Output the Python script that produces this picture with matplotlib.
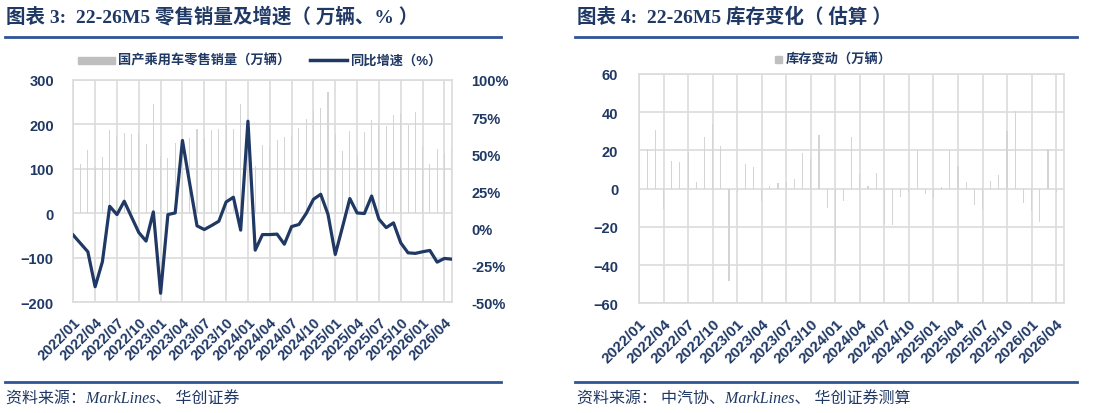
import matplotlib
matplotlib.use('Agg')
import matplotlib.pyplot as plt
import numpy as np
import pandas as pd
from matplotlib.lines import Line2D
from matplotlib.patches import Rectangle
from matplotlib.ticker import FuncFormatter

plt.rcParams['font.family'] = ['Liberation Sans', 'Noto Sans CJK SC']

# monthly data 2022/01 - 2026/05
months = pd.date_range('2022-01-01', periods=53, freq='MS').strftime('%Y/%m').tolist()

retail_sales = [216, 112, 142, 105, 127, 187, 174, 181, 179, 180, 157, 246,
                130, 124, 159, 165, 170, 190, 170, 187, 190, 200, 190, 246,
                210, 106, 153, 150, 164, 172, 175, 193, 213, 230, 237, 272,
                178, 140, 185, 131, 184, 211, 200, 196, 222, 225, 198, 228,
                151, 110, 144, 135, 147]

yoy_growth = [-4.7, -10.3, -15.9, -39.5, -22.6, 14.8, 9.2, 18.2, 7.6, -2.9, -8.7, 11.0,
              -43.9, 9.2, 10.3, 59.2, 30.0, 1.6, -0.9, 1.8, 4.7, 17.7, 20.9, -1.3,
              72.2, -14.8, -4.3, -4.3, -4.0, -10.8, 1.1, 2.5, 9.9, 19.5, 22.9, 9.4,
              -17.7, 0.9, 20.0, 10.3, 9.9, 21.7, 6.1, 0.4, 3.6, -9.9, -16.6, -17.0,
              -15.9, -15.0, -22.9, -20.4, -20.9]

inventory_change = [-18.7, 20.6, 30.7, -10.8, 14.3, 14.1, 19.0, 3.3, 27.0, 33.7, 22.3, -48.3,
                    -2.0, 12.7, 11.3, -6.5, 1.4, 3.1, 3.5, 4.9, 18.8, 15.7, 27.9, -9.9,
                    -38.0, -6.5, 27.0, 7.5, 1.4, 8.4, -18.7, -19.2, -4.2, -2.0, 20.4, -3.0,
                    -4.7, 1.0, 20.2, 11.9, 3.7, -8.5, -10.5, 4.0, 7.0, 30.2, 40.7, -7.7,
                    -11.7, -17.4, 20.9, -2.0, -3.8]

NAVY = '#1F3864'
RULE = '#2F5496'
GRID = '#DCDCDC'
BAR = '#D4D4D4'

W, H = 1094, 414
fig = plt.figure(figsize=(W / 100, H / 100), dpi=100)


def fx(px):
    return px / W


def fy(py):
    return 1 - py / H


x = np.arange(len(months))
tick_idx = x[::3]
serif = ['Liberation Serif', 'Noto Sans CJK SC']


def style_axes(ax, fs):
    ax.set_xlim(0, len(months) - 1)
    ax.set_xticks(tick_idx)
    ax.set_xticklabels([months[i] for i in tick_idx], rotation=45, ha='right',
                       rotation_mode='anchor', fontsize=fs, fontweight='bold', color=NAVY)
    ax.grid(True, color=GRID, lw=1.2)
    ax.set_axisbelow(True)
    for s in ax.spines.values():
        s.set_color(GRID)
        s.set_linewidth(1.2)
    ax.tick_params(axis='x', length=0, pad=9)


# ---- left panel: retail sales + yoy
ax1 = fig.add_axes([fx(73.3), fy(303.3), fx(451.7 - 73.3), (303.3 - 81) / H])
ax1.bar(x, retail_sales, width=0.14, color=BAR, zorder=2)
style_axes(ax1, 10.5)
ax1.set_ylim(-200, 300)
ax1.set_yticks(range(-200, 301, 100))
ax1.tick_params(axis='y', length=0, pad=14, labelsize=10.5, labelcolor=NAVY)
for t in ax1.get_yticklabels():
    t.set_fontweight('bold')

ax2 = ax1.twinx()
ax2.plot(x, yoy_growth, color=NAVY, lw=2.3, zorder=3)
ax2.set_ylim(-50, 100)
ax2.set_yticks(range(-50, 101, 25))
ax2.yaxis.set_major_formatter(FuncFormatter(lambda v, p: f'{v:.0f}%'))
ax2.tick_params(axis='y', length=0, pad=14, labelsize=10.5, labelcolor=NAVY)
for t in ax2.get_yticklabels():
    t.set_fontweight('bold')
for s in ax2.spines.values():
    s.set_visible(False)

# ---- right panel: inventory change
ax3 = fig.add_axes([fx(639), fy(304.3), fx(1064.3 - 639), (304.3 - 75) / H])
ax3.bar(x, inventory_change, width=0.14, color=BAR, zorder=2)
style_axes(ax3, 11)
ax3.set_ylim(-60, 60)
ax3.set_yticks(range(-60, 61, 20))
ax3.tick_params(axis='y', length=0, pad=15, labelsize=10.5, labelcolor=NAVY)
for t in ax3.get_yticklabels():
    t.set_fontweight('bold')

# ---- titles, rules, sources
fig.text(fx(6), fy(17), '图表 3:  22-26M5 零售销量及增速（ 万辆、% ）', family=serif,
         fontsize=14, fontweight='bold', color=NAVY, va='center')
fig.text(fx(577), fy(17), '图表 4:  22-26M5 库存变化（ 估算 ）', family=serif,
         fontsize=14, fontweight='bold', color=NAVY, va='center')
for x0, x1 in [(5, 501), (575, 1077)]:
    for yy in (38.3, 382.7):
        fig.add_artist(Line2D([fx(x0), fx(x1)], [fy(yy), fy(yy)], color=RULE, lw=2))
fig.text(fx(6), fy(400), '资料来源：MarkLines、 华创证券', family=serif, style='italic',
         fontsize=11.5, color=NAVY, va='center')
fig.text(fx(577), fy(400), '资料来源： 中汽协、MarkLines、 华创证券测算', family=serif,
         style='italic', fontsize=11.5, color=NAVY, va='center')

# ---- legends
fig.add_artist(Rectangle((fx(78), fy(64.5)), fx(37), 7 / H, color='#BFBFBF'))
fig.text(fx(118), fy(61), '国产乘用车零售销量（万辆）', fontsize=9.5, fontweight='bold',
         color=NAVY, va='center')
fig.add_artist(Line2D([fx(310), fx(347)], [fy(61), fy(61)], color=NAVY, lw=2.5))
fig.text(fx(350), fy(61), '同比增速（%）', fontsize=9.5, fontweight='bold',
         color=NAVY, va='center')

fig.add_artist(Rectangle((fx(775), fy(63.5)), fx(7), 7 / H, color='#BFBFBF'))
fig.text(fx(786), fy(60), '库存变动（万辆）', fontsize=9.5, fontweight='bold',
         color=NAVY, va='center')

fig.savefig('out.png', dpi=100)
